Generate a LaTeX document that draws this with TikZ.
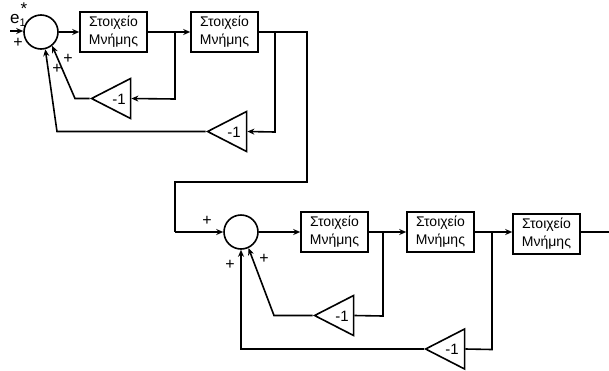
\documentclass[tikz,border=0pt]{standalone}
\usepackage{fontspec}
\setmainfont{Liberation Sans}
\usetikzlibrary{shapes.geometric,arrows.meta}
\tikzset{
  mem/.style={draw,line width=1.6pt,minimum width=67pt,minimum height=40pt,inner sep=0pt,align=center,font=\fontsize{14}{18}\selectfont},
  sumc/.style={draw,circle,line width=1.6pt,minimum size=34pt,inner sep=0pt},
  tri/.style={draw,line width=1.6pt,isosceles triangle,isosceles triangle stretches,shape border rotate=180,minimum width=40pt,minimum height=39pt,inner sep=0pt,anchor=apex},
  gain/.style={font=\fontsize{15}{17}\selectfont,inner sep=0pt},
  sgn/.style={font=\fontsize{16}{17}\selectfont,inner sep=0pt},
  wire/.style={line width=1.6pt},
  arr/.style={line width=1.6pt,-{Stealth[length=7pt,width=6pt]}},
}
\begin{document}
\begin{tikzpicture}[x=1pt,y=-1pt]
\useasboundingbox (0,0) rectangle (609,370);
% top row
\node[sumc] (s1) at (41,32) {};
\node[mem] (b1) at (113.5,32) {Στοιχείο\\Μνήμης};
\node[mem] (b2) at (224.5,32) {Στοιχείο\\Μνήμης};
\node[tri] (t1) at (89.5,98.5) {};
\node[tri] (t2) at (205.5,131.5) {};
\node[gain] (g1) at (119,99) {-1};
\node[gain] (g2) at (234,132) {-1};
\coordinate (j1) at (175,32);
\coordinate (j2) at (275,32);
\coordinate (k1) at (75,98.5);
\coordinate (k2) at (57,131.5);
\coordinate (in) at (10,31);
\coordinate (c1) at (307,32);
\coordinate (c2) at (307,182);
\coordinate (c3) at (175,182);
\coordinate (c4) at (175,232);
% bottom row
\node[sumc] (s2) at (241,232) {};
\node[mem] (b3) at (334.5,232) {Στοιχείο\\Μνήμης};
\node[mem] (b4) at (440.5,232) {Στοιχείο\\Μνήμης};
\node[mem] (b5) at (546.5,234) {Στοιχείο\\Μνήμης};
\node[tri] (t3) at (312.5,315.5) {};
\node[tri] (t4) at (423.5,349) {};
\node[gain] (g3) at (342,316) {-1};
\node[gain] (g4) at (452,349.5) {-1};
\coordinate (j3) at (383,232);
\coordinate (j4) at (492,232);
\coordinate (k3) at (274,315.5);
\coordinate (k4) at (241,349);
\coordinate (out) at (609,232);
% connectors
\draw[arr] (in) -- (s1.west |- in);
\draw[arr] (s1.east) -- (b1.west);
\draw[arr] (b1.east) -- (b2.west);
\draw[wire] (b2.east) -- (c1) -- (c2) -- (c3) -- (c4);
\draw[arr] (c4) -- (s2.west);
\draw[arr] (j1) -- (j1 |- g1) -- (t1.lower side);
\draw[arr] (j2) -- (j2 |- g2) -- (t2.lower side);
\draw[arr] (t1.apex) -- (k1) -- (s1.-51);
\draw[arr] (t2.apex) -- (k2) -- (s1.-76);
\draw[arr] (s2.east) -- (b3.west);
\draw[arr] (b3.east) -- (b4.west);
\draw[arr] (b4.east) -- (b5.west |- b4.east);
\draw[wire] (b5.east |- out) -- (out);
\draw[wire] (j3) -- (j3 |- g3) -- (t3.lower side);
\draw[wire] (j4) -- (j4 |- g4) -- (t4.lower side);
\draw[arr] (t3.apex) -- (k3) -- (s2.-65);
\draw[arr] (t4.apex) -- (k4) -- (s2.south);
% signs
\node[font=\fontsize{17}{18}\selectfont,inner sep=0pt,anchor=base west] (e) at (10,23.5) {e\rlap{\raisebox{-2.5pt}{\fontsize{11}{11}\selectfont 1}}\raisebox{9pt}{\hspace{1pt}\fontsize{17}{17}\selectfont *}};
\node[sgn] (p1) at (18,43) {+};
\node[sgn] (p2) at (68,59) {+};
\node[sgn] (p3) at (57,69) {+};
\node[sgn] (p4) at (207,221) {+};
\node[sgn] (p5) at (230,265) {+};
\node[sgn] (p6) at (264,259) {+};
\end{tikzpicture}
\end{document}
